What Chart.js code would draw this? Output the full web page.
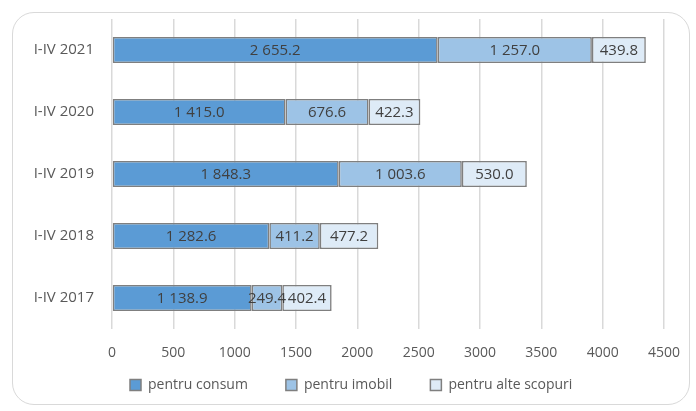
<!DOCTYPE html>
<html><head><meta charset="utf-8">
<script src="https://cdn.jsdelivr.net/npm/chart.js@4"></script>
<style>
html,body{margin:0;padding:0;background:#fff;}
#wrap{position:relative;width:696px;height:411px;}
#frame{position:absolute;left:12px;top:12px;width:676px;height:391px;border:1.5px solid #d9d9d9;border-radius:22px;}
canvas{position:absolute;left:0;top:0;}
</style></head>
<body><div id="wrap"><div id="frame"></div><canvas id="c" width="696" height="411"></canvas></div>
<script>
const categories = ["I-IV 2021","I-IV 2020","I-IV 2019","I-IV 2018","I-IV 2017"];
const seriesNames = ["pentru consum","pentru imobil","pentru alte scopuri"];
const consum = [2655.2, 1415.0, 1848.3, 1282.6, 1138.9];
const imobil = [1257.0, 676.6, 1003.6, 411.2, 249.4];
const alte = [439.8, 422.3, 530.0, 477.2, 402.4];
const xTicks = [0,500,1000,1500,2000,2500,3000,3500,4000,4500];

const colors = ["#5b9bd5","#9dc3e6","#deebf7"];
const FONT = "'Open Sans', sans-serif";

function fmt(v){
  const s = v.toFixed(1);
  const [i,d] = s.split(".");
  return i.replace(/\B(?=(\d{3})+(?!\d))/g," ") + "." + d;
}

const labelPlugin = {
  id:"segLabels",
  afterDatasetsDraw(chart){
    const ctx = chart.ctx;
    ctx.save();
    ctx.font = "15px " + FONT;
    ctx.fillStyle = "#404040";
    ctx.textAlign = "center";
    ctx.textBaseline = "middle";
    chart.data.datasets.forEach((ds,di)=>{
      const meta = chart.getDatasetMeta(di);
      meta.data.forEach((el,i)=>{
        const p = el.getProps(["x","y","base"],true);
        ctx.fillText(fmt(ds.data[i]), (p.x+p.base)/2, p.y+1);
      });
    });
    ctx.restore();
  }
};

// legend drawn below the axis, spaced like the original
const legendPlugin = {
  id:"customLegend",
  afterDraw(chart){
    const ctx = chart.ctx;
    ctx.save();
    ctx.font = "14px " + FONT;
    ctx.textBaseline = "middle";
    ctx.textAlign = "left";
    const yC = 385, box = 11, gap = 7, spacing = 38;
    let x = 130;
    chart.data.datasets.forEach((ds)=>{
      ctx.fillStyle = ds.backgroundColor;
      ctx.fillRect(x, yC-box/2, box, box);
      ctx.strokeStyle = "#7f7f7f";
      ctx.lineWidth = 1.5;
      ctx.strokeRect(x, yC-box/2, box, box);
      ctx.fillStyle = "#595959";
      const tx = x + box + gap;
      ctx.fillText(ds.label, tx, yC);
      x = tx + ctx.measureText(ds.label).width + spacing;
    });
    ctx.restore();
  }
};

const dsets = [consum,imobil,alte].map((d,k)=>({
  label: seriesNames[k],
  data: d,
  backgroundColor: colors[k],
  borderColor: "#7f7f7f",
  borderWidth: 1.6,
  borderSkipped: false,
  barPercentage: 0.84,
  categoryPercentage: 0.5
}));

new Chart(document.getElementById("c"),{
  type:"bar",
  data:{labels:categories, datasets:dsets},
  options:{
    indexAxis:"y",
    responsive:false,
    animation:false,
    devicePixelRatio:1,
    layout:{padding:{left:0,right:25,top:19,bottom:42}},
    plugins:{
      tooltip:{enabled:false},
      legend:{display:false}
    },
    scales:{
      x:{
        stacked:true, min:0, max:4500,
        afterBuildTicks(axis){ axis.ticks = xTicks.map(v=>({value:v})); },
        afterFit(axis){ axis.height = 40; },
        ticks:{font:{family:FONT,size:14},color:"#595959",padding:16,
          callback:(v)=>String(v)},
        grid:{color:"#d9d9d9",lineWidth:1.5,drawTicks:false},
        border:{display:false}
      },
      y:{
        stacked:true,
        afterFit(axis){ axis.width = 112; },
        ticks:{font:{family:FONT,size:15},color:"#595959",padding:10},
        grid:{display:false},
        border:{display:false}
      }
    }
  },
  plugins:[labelPlugin, legendPlugin]
});
</script></body></html>
